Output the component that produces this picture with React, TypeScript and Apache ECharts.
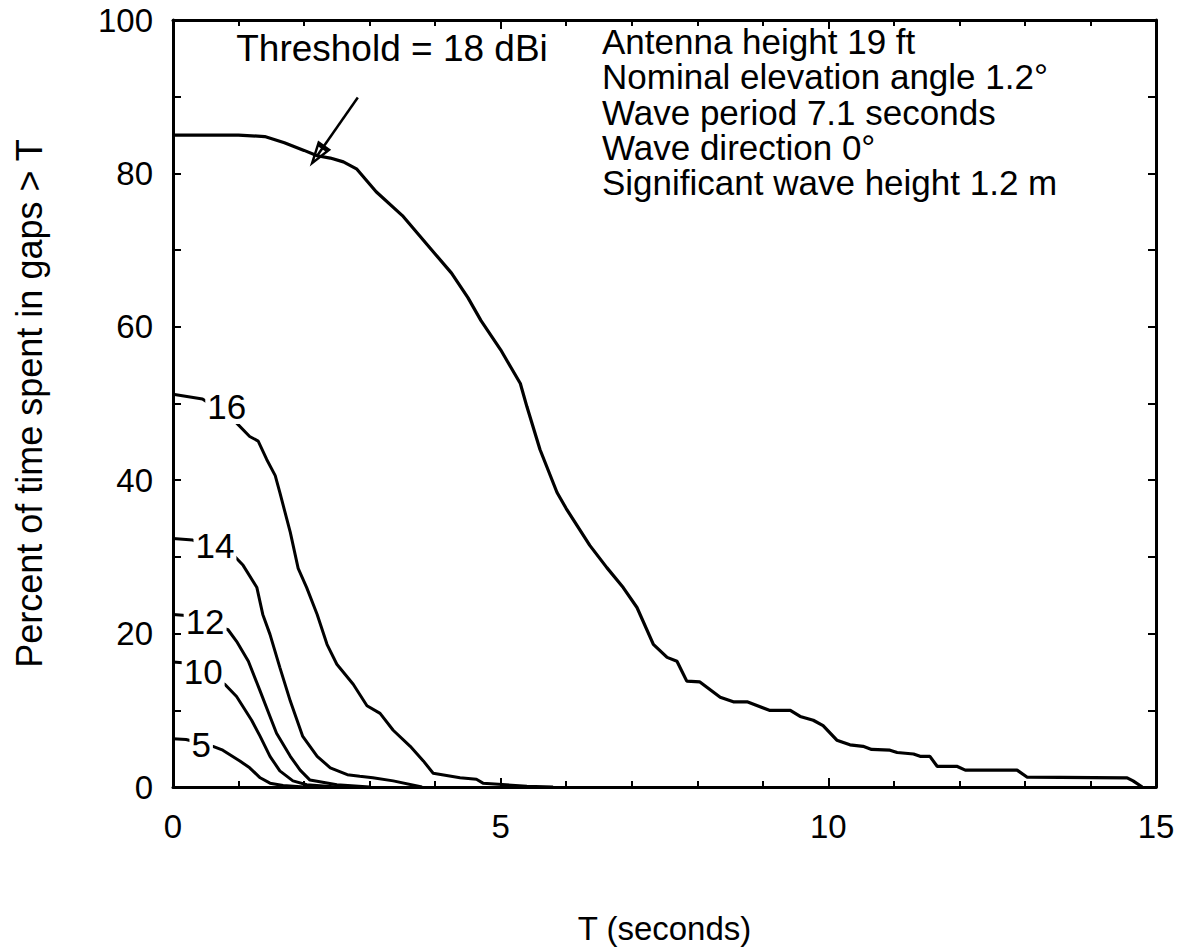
import React, { useEffect, useRef } from 'react';
import * as echarts from 'echarts';

// Threshold 18 dBi (main curve)
const t18 = [0, 0.5, 1.0, 1.4, 1.7, 2.0, 2.2, 2.4, 2.6, 2.8, 3.1, 3.5, 3.75, 4.0, 4.25, 4.5, 4.7, 5.0, 5.3, 5.4, 5.6, 5.86, 6.0, 6.36, 6.62, 6.87, 7.08, 7.33, 7.54, 7.69, 7.84, 8.04, 8.35, 8.55, 8.76, 9.1, 9.42, 9.57, 9.77, 9.92, 10.13, 10.33, 10.53, 10.66, 10.94, 11.05, 11.3, 11.4, 11.55, 11.66, 11.96, 12.09, 12.88, 13.03, 14.56, 14.65, 14.79];
const p18 = [85, 85, 85, 84.8, 84, 83, 82.3, 82, 81.5, 80.6, 77.6, 74.5, 72, 69.5, 67, 63.8, 60.8, 57, 52.6, 49.6, 44, 38.4, 36.3, 31.5, 28.6, 26, 23.4, 18.6, 16.9, 16.4, 13.8, 13.7, 11.7, 11.1, 11.1, 10, 10, 9.2, 8.7, 8.0, 6.1, 5.5, 5.3, 4.9, 4.8, 4.5, 4.3, 4.0, 4.0, 2.7, 2.7, 2.2, 2.2, 1.3, 1.2, 0.8, 0.0];

const t16 = [0, 0.45, 0.92, 1.17, 1.3, 1.43, 1.56, 1.63, 1.79, 1.91, 2.04, 2.2, 2.35, 2.5, 2.75, 2.96, 3.16, 3.36, 3.62, 3.82, 3.97, 4.38, 4.63, 4.73, 5.4, 5.8];
const p16 = [51.2, 50.6, 47.9, 45.7, 45.1, 42.7, 40.6, 38.4, 33.2, 28.5, 26, 22.5, 18.6, 16, 13.4, 10.6, 9.6, 7.4, 5.3, 3.4, 1.8, 1.2, 1.0, 0.5, 0.1, 0];

const t14 = [0, 0.3, 0.95, 1.07, 1.28, 1.37, 1.48, 1.63, 1.79, 1.98, 2.2, 2.4, 2.66, 2.85, 3.05, 3.36, 3.8];
const p14 = [32.4, 32.2, 30, 28.9, 26, 22.5, 19.9, 15.6, 11.2, 6.6, 4.0, 2.5, 1.6, 1.4, 1.2, 0.8, 0];

const t12 = [0, 0.15, 0.84, 0.97, 1.15, 1.33, 1.48, 1.58, 1.79, 1.94, 2.09, 2.5, 3.0];
const p12 = [22.5, 22.4, 20.5, 19, 16.4, 12.5, 9.2, 7.0, 4.0, 2.2, 0.9, 0.3, 0];

const t10 = [0, 0.15, 0.79, 0.97, 1.2, 1.33, 1.48, 1.63, 1.83, 2.04, 2.5];
const p10 = [16.3, 16.2, 13.4, 11.8, 8.7, 6.6, 4.0, 2.1, 0.8, 0.3, 0];

const t5 = [0, 0.2, 0.61, 0.76, 1.02, 1.17, 1.33, 1.48, 1.68, 2.0];
const p5 = [6.3, 6.2, 5.3, 4.8, 3.4, 2.5, 1.2, 0.5, 0.2, 0];

// Contour labels
const curveLabelT = [0.82, 0.64, 0.49, 0.46, 0.43];
const curveLabelP = [49.6, 31.5, 21.6, 15.1, 5.6];
const curveLabelText = ['16', '14', '12', '10', '5'];

// Arrow for threshold annotation
const arrowFrom = [2.82, 89.9];
const arrowTo = [2.2, 82.3];

const infoLines = [
  'Antenna height 19 ft',
  'Nominal elevation angle 1.2°',
  'Wave period 7.1 seconds',
  'Wave direction 0°',
  'Significant wave height 1.2 m',
];

const FONT = '"Liberation Sans", Arial, Helvetica, sans-serif';

const zip = (a: number[], b: number[]) => a.map((v, i) => [v, b[i]]);

export default function App() {
  const ref = useRef<HTMLDivElement>(null);
  useEffect(() => {
    const chart = echarts.init(ref.current!, null, { renderer: 'svg' });
    const lineSeries = (name: string, t: number[], p: number[], w: number, extra: any = {}) => ({
      name,
      type: 'line',
      data: zip(t, p),
      showSymbol: false,
      symbol: 'none',
      lineStyle: { color: '#000', width: w },
      z: 2,
      ...extra,
    });
    const axisCommonX = {
      type: 'value',
      min: 0,
      max: 15,
      interval: 5,
      axisLine: { show: true, onZero: false, lineStyle: { color: '#000', width: 3 } },
      axisTick: { show: true, inside: true, length: 9, lineStyle: { color: '#000', width: 2 } },
      minorTick: { show: true, splitNumber: 5, length: 6, lineStyle: { color: '#000', width: 2 } },
      splitLine: { show: false },
      minorSplitLine: { show: false },
    };
    const axisCommonY = {
      type: 'value',
      min: 0,
      max: 100,
      interval: 10,
      axisLine: { show: true, onZero: false, lineStyle: { color: '#000', width: 3 } },
      axisTick: { show: true, inside: true, length: 8, lineStyle: { color: '#000', width: 2 } },
      splitLine: { show: false },
    };
    const option: any = {
      animation: false,
      backgroundColor: '#fff',
      grid: { left: 173, top: 20, width: 983, height: 780, containLabel: false },
      xAxis: [
        {
          ...axisCommonX,
          position: 'bottom',
          axisLabel: { color: '#000', fontSize: 33, fontFamily: FONT, margin: 23 },
          name: 'T (seconds)',
          nameLocation: 'middle',
          nameGap: 125,
          nameTextStyle: { color: '#000', fontSize: 33, fontFamily: FONT },
        },
        {
          ...axisCommonX,
          position: 'top',
          axisLabel: { show: false },
        },
      ],
      yAxis: [
        {
          ...axisCommonY,
          position: 'left',
          axisLabel: {
            color: '#000',
            fontSize: 33,
            fontFamily: FONT,
            margin: 20,
            formatter: (v: number) => (v % 20 === 0 ? String(v) : ''),
          },
          name: 'Percent of time spent in gaps > T',
          nameLocation: 'middle',
          nameRotate: 90,
          nameGap: 126,
          nameTextStyle: { color: '#000', fontSize: 36, fontFamily: FONT },
        },
        {
          ...axisCommonY,
          position: 'right',
          axisLabel: { show: false },
        },
      ],
      series: [
        lineSeries('18 dBi', t18, p18, 3.2, {
          markLine: {
            silent: true,
            symbol: ['none', 'path://M0,0 L10,22 L-10,22 Z M0,7 L-5,18 L5,18 Z'],
            symbolSize: [16, 26],
            label: { show: false },
            lineStyle: { color: '#000', width: 2.5, type: 'solid' },
            data: [[{ coord: arrowFrom }, { coord: arrowTo }]],
          },
        }),
        lineSeries('16 dBi', t16, p16, 3),
        lineSeries('14 dBi', t14, p14, 3),
        lineSeries('12 dBi', t12, p12, 3),
        lineSeries('10 dBi', t10, p10, 3),
        lineSeries('5 dBi', t5, p5, 3),
        {
          name: 'labels',
          type: 'scatter',
          symbol: 'circle',
          symbolSize: 0,
          itemStyle: { color: '#000' },
          z: 5,
          data: curveLabelT.map((t, i) => [t, curveLabelP[i], curveLabelText[i]]),
          label: {
            show: true,
            position: 'inside',
            formatter: (p: any) => p.value[2],
            color: '#000',
            opacity: 1,
            fontSize: 35,
            fontFamily: FONT,
            backgroundColor: '#fff',
            padding: [0, 2, 0, 2],
          },
        },
      ],
      graphic: [
        {
          type: 'text',
          x: 392,
          y: 48,
          z: 10,
          style: {
            text: 'Threshold = 18 dBi',
            fill: '#000',
            font: `37px ${FONT}`,
            align: 'center',
            verticalAlign: 'middle',
          },
        },
        {
          type: 'text',
          x: 602,
          y: 24,
          z: 10,
          style: {
            text: infoLines.join('\n'),
            fill: '#000',
            font: `35px ${FONT}`,
            lineHeight: 35.3,
            align: 'left',
            verticalAlign: 'top',
          },
        },
      ],
    };
    chart.setOption(option);
    return () => chart.dispose();
  }, []);
  return (
    <div
      ref={ref}
      style={{ position: 'fixed', left: 0, top: 0, width: 1184, height: 950, background: '#fff' }}
    />
  );
}
